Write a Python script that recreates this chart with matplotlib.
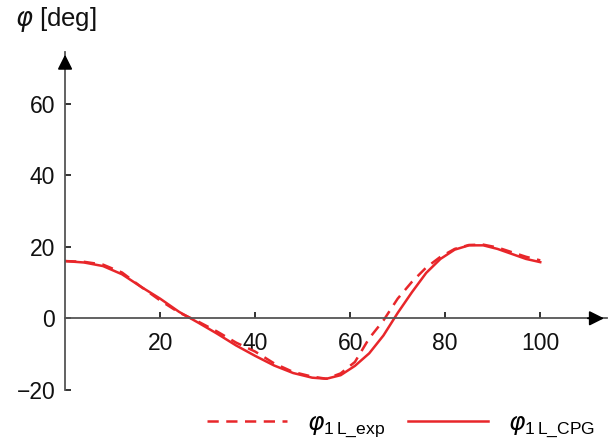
import numpy as np
import matplotlib
matplotlib.use('Agg')
import matplotlib.pyplot as plt

plt.rcParams['font.family'] = ['Liberation Sans', 'DejaVu Sans']
plt.rcParams['mathtext.fontset'] = 'dejavusans'

# gait cycle [%]
x = [0, 4, 8, 12, 16, 20, 24, 28, 32, 36, 40, 44, 48, 52, 55, 58, 61, 64,
     67, 70, 73, 76, 79, 82, 85, 88, 91, 94, 97, 100]
# CPG output (solid)
phi_cpg = [16.0, 15.6, 14.6, 12.3, 8.8, 5.5, 1.8, -1.2, -4.3, -7.6, -10.5,
           -13.2, -15.3, -16.6, -16.9, -15.9, -13.3, -9.8, -4.8, 1.5, 7.3,
           12.7, 16.6, 19.2, 20.4, 20.4, 19.4, 18.0, 16.6, 15.7]
# experiment (dashed)
phi_exp = [16.0, 15.8, 15.0, 12.8, 8.8, 5.0, 1.6, -0.9, -3.7, -6.8, -9.3,
           -12.6, -15.0, -16.3, -16.9, -15.4, -12.2, -5.6, -0.6, 5.5, 10.2,
           14.2, 17.2, 19.4, 20.5, 20.6, 19.8, 18.5, 17.2, 16.2]

xticks = [20, 40, 60, 80, 100]
yticks = [-20, 0, 20, 40, 60]

red = '#e8262a'
axcol = '#555555'

fig = plt.figure(figsize=(6.08, 4.43), dpi=100)
ax = fig.add_axes([0.107, 0.12, 0.891, 0.763])

l1, = ax.plot(x, phi_exp, color=red, lw=1.8, ls=(0, (4.5, 3)),
              label=r'$\varphi_{\mathregular{1\,L\_exp}}$')
l2, = ax.plot(x, phi_cpg, color=red, lw=1.8,
              label=r'$\varphi_{\mathregular{1\,L\_CPG}}$')

ax.set_xlim(0, 114)
ax.set_ylim(-20, 74.5)

for s in ['top', 'right']:
    ax.spines[s].set_visible(False)
ax.spines['bottom'].set_position(('data', 0))
ax.spines['left'].set_bounds(-20, 74.5)
for s in ['left', 'bottom']:
    ax.spines[s].set_color(axcol)
    ax.spines[s].set_linewidth(1.3)

ax.set_xticks(xticks)
ax.set_yticks(yticks)
ax.tick_params(direction='in', length=4, width=1.3, color='#222222',
               labelsize=16.5, labelcolor='#111111')
ax.tick_params(axis='x', pad=10)
ax.tick_params(axis='y', pad=7)

# arrow heads
ax.annotate('', xy=(1.0, 0), xycoords=('axes fraction', 'data'),
            xytext=(0.96, 0), textcoords=('axes fraction', 'data'),
            arrowprops=dict(arrowstyle='-|>', color='black', lw=1.3,
                            mutation_scale=22), annotation_clip=False)
ax.annotate('', xy=(0, 1.0), xycoords=('data', 'axes fraction'),
            xytext=(0, 0.95), textcoords=('data', 'axes fraction'),
            arrowprops=dict(arrowstyle='-|>', color='black', lw=1.3,
                            mutation_scale=22), annotation_clip=False)

fig.text(0.025, 0.955, r'$\varphi$ [deg]', fontsize=18.5, color='#111111',
         va='center', ha='left')

fig.legend(handles=[l1, l2], loc='center', bbox_to_anchor=(0.66, 0.04),
           ncol=2, frameon=False, fontsize=18, handlelength=3.2,
           columnspacing=0.9, handletextpad=0.8, borderpad=0.2)

fig.savefig('out.png', dpi=100)
